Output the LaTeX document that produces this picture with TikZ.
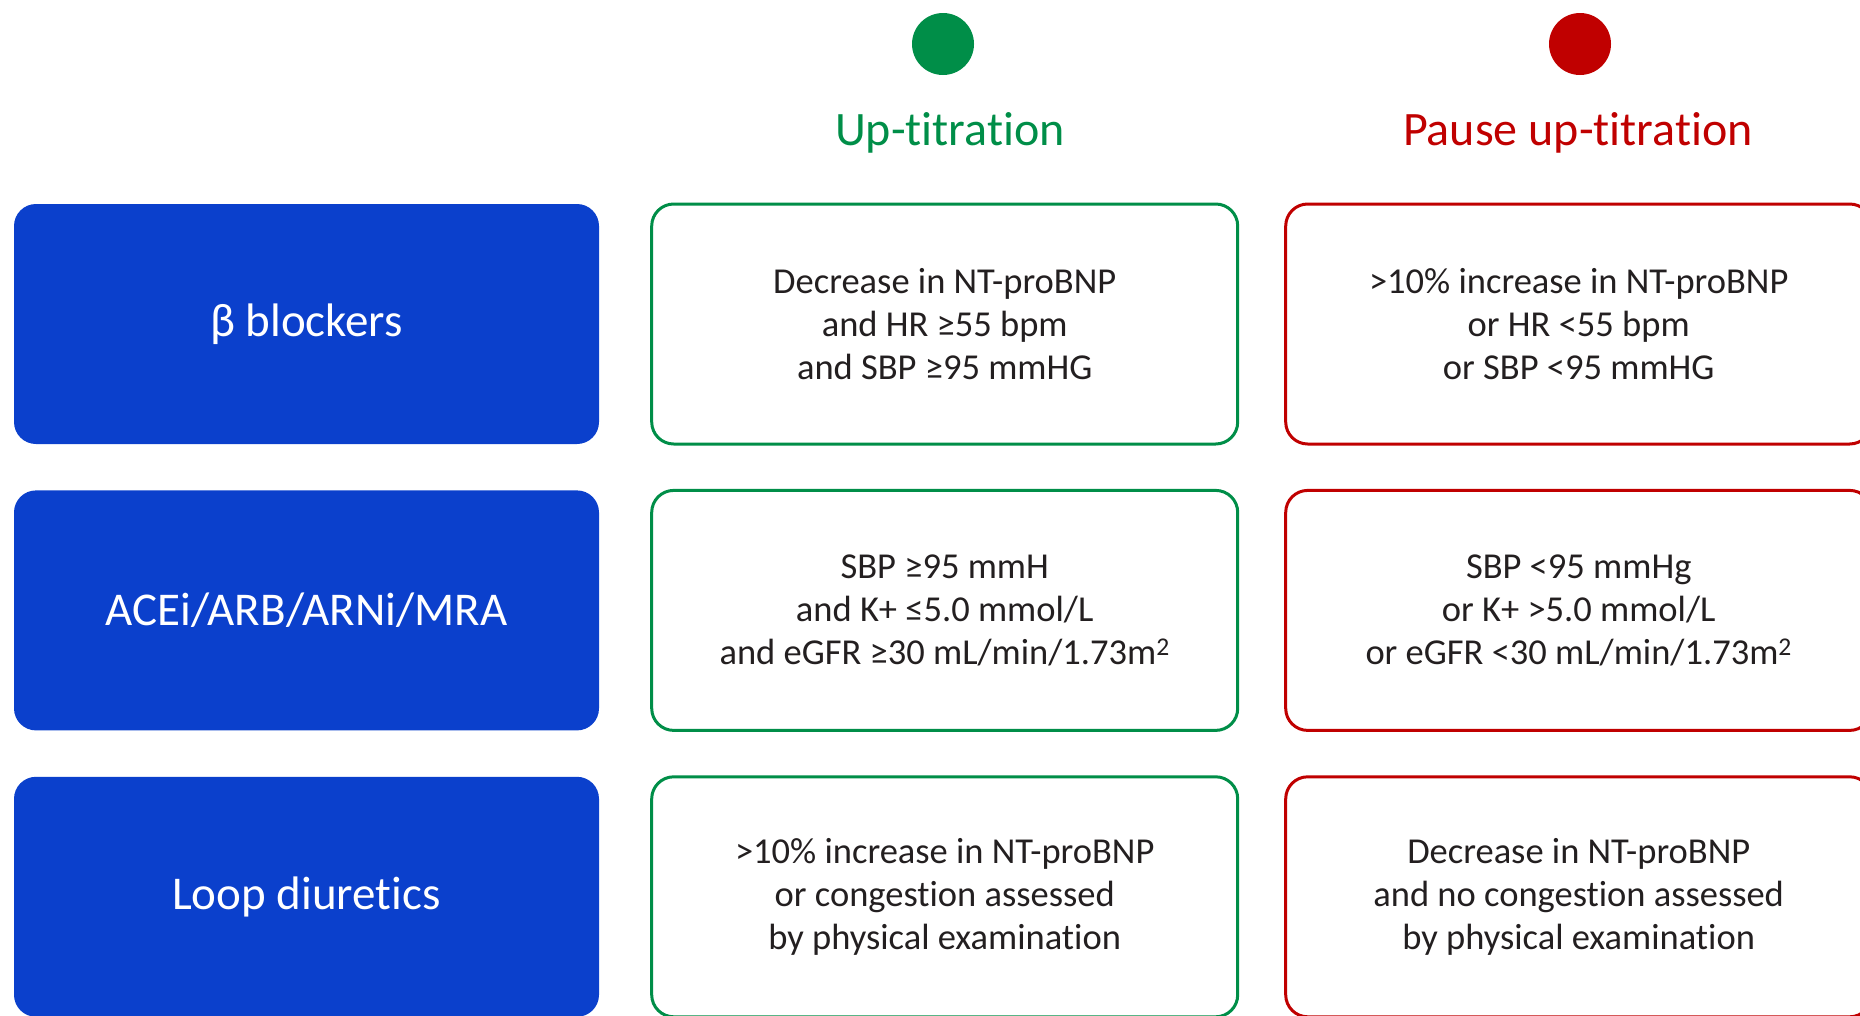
\documentclass[tikz,border=0pt]{standalone}
\usepackage{fontspec}
\setmainfont{Carlito}[Ligatures=NoCommon]
\usepackage{tikz}
\usetikzlibrary{positioning}
\definecolor{drugblue}{RGB}{11,64,204}
\definecolor{upgreen}{RGB}{0,142,72}
\definecolor{pausered}{RGB}{192,0,0}
\definecolor{textgray}{RGB}{35,31,32}

\begin{document}
\begin{tikzpicture}[x=1pt,y=1pt,
		node distance=46pt and 51pt,
		drug/.style={rounded corners=22pt,fill=drugblue,text=white,
				minimum width=585pt,minimum height=240pt,
				font=\fontsize{47}{56}\selectfont,align=center},
		crit/.style={draw,line width=3pt,rounded corners=22pt,fill=white,
				minimum width=586pt,minimum height=240pt,text=textgray,
				font=\fontsize{36.5}{43.3}\selectfont,align=center},
		upbox/.style={crit,draw=upgreen},
		pausebox/.style={crit,draw=pausered},
		dot/.style={circle,minimum size=62pt,inner sep=0pt},
		head/.style={anchor=base,font=\fontsize{48}{58}\selectfont}]
	\useasboundingbox (0,0) rectangle (1860,-1015);
	\node[drug] (bb) at (306.5,-324) {β blockers};
	\node[drug,below=of bb]  (ace)  {ACEi/ARB/ARNi/MRA};
	\node[drug,below=of ace] (loop) {Loop diuretics};
	\node[upbox,right=of bb]   (bbup)   {Decrease in NT-proBNP\\and HR ≥55 bpm\\and SBP ≥95 mmHG};
	\node[upbox,right=of ace]  (aceup)  {SBP ≥95 mmH\\and K+ ≤5.0 mmol/L\\and eGFR ≥30 mL/min/1.73m\textsuperscript{2}};
	\node[upbox,right=of loop] (loopup) {>10\% increase in NT-proBNP\\or congestion assessed\\by physical examination};
	\node[pausebox,right=45pt of bbup]   (bbpause)   {>10\% increase in NT-proBNP\\or HR <55 bpm\\or SBP <95 mmHG};
	\node[pausebox,right=45pt of aceup]  (acepause)  {SBP <95 mmHg\\or K+ >5.0 mmol/L\\or eGFR <30 mL/min/1.73m\textsuperscript{2}};
	\node[pausebox,right=45pt of loopup] (looppause) {Decrease in NT-proBNP\\and no congestion assessed\\by physical examination};
	\node[dot,fill=upgreen]  (updot)    at (943,-44)  {};
	\node[dot,fill=pausered] (pausedot) at (1580,-44) {};
	\node[head,text=upgreen]  (uptitle)    at (950,-145)  {Up-titration};
	\node[head,text=pausered] (pausetitle) at (1578,-145) {Pause up-titration};
\end{tikzpicture}
\end{document}
